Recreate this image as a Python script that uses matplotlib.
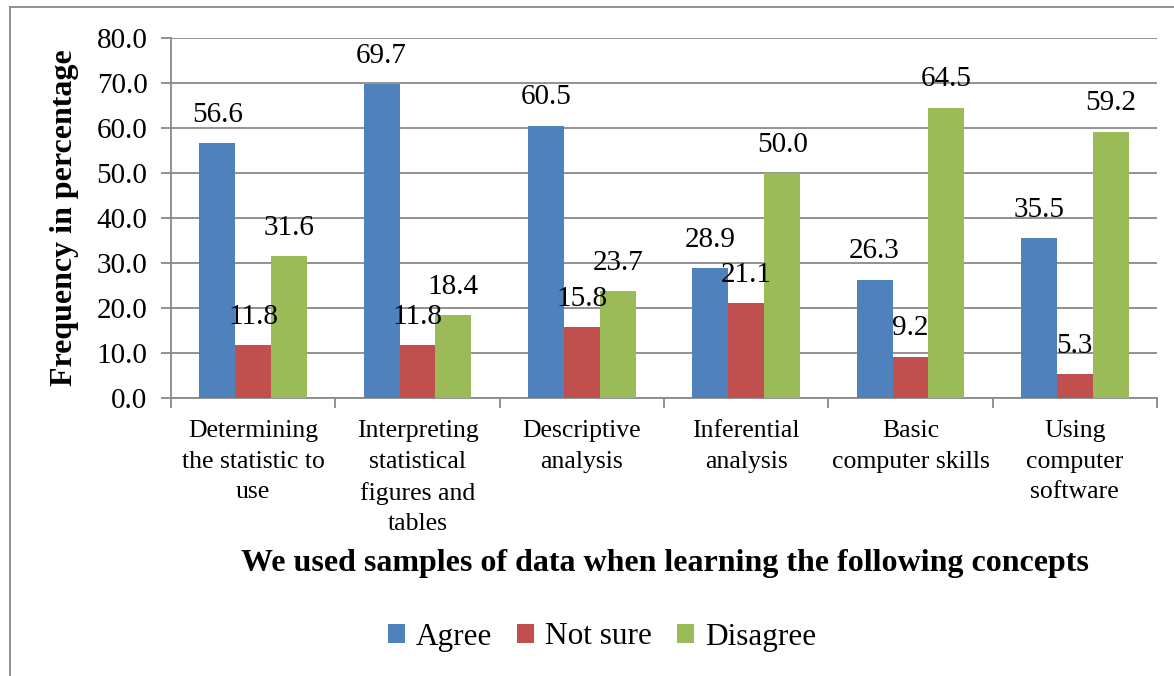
import numpy as np
import matplotlib
matplotlib.use("Agg")
import matplotlib.pyplot as plt
from matplotlib.lines import Line2D

plt.rcParams['font.family'] = ['Liberation Serif', 'DejaVu Serif']

categories = ["Determining\nthe statistic to\nuse",
              "Interpreting\nstatistical\nfigures and\ntables",
              "Descriptive\nanalysis",
              "Inferential\nanalysis",
              "Basic\ncomputer skills",
              "Using\ncomputer\nsoftware"]
agree = [56.6, 69.7, 60.5, 28.9, 26.3, 35.5]
not_sure = [11.8, 11.8, 15.8, 21.1, 9.2, 5.3]
disagree = [31.6, 18.4, 23.7, 50.0, 64.5, 59.2]
series_names = ["Agree", "Not sure", "Disagree"]
colors = ["#4F81BD", "#C0504D", "#9BBB59"]
grid_col = "#898989"

W, H = 1174, 676
fig = plt.figure(figsize=(W / 100, H / 100), dpi=100)
ax = fig.add_axes([171 / W, 1 - 398 / H, (1157 - 171) / W, (398 - 38) / H])

x = np.arange(len(categories))
bw = 0.219
for i, (vals, name, c) in enumerate(zip([agree, not_sure, disagree], series_names, colors)):
    pos = x + (i - 1) * bw
    ax.bar(pos, vals, bw, color=c, label=name, zorder=3)
    for p, v in zip(pos, vals):
        ax.annotate(f"{v:.1f}", (p, v), xytext=(0, 11), textcoords="offset points",
                    ha="center", va="bottom", fontsize=21, zorder=4)

ax.set_xlim(-0.5, len(categories) - 0.5)
ax.set_ylim(0, 80)
ax.set_yticks(np.arange(0, 81, 10))
ax.set_yticklabels([f"{t:.1f}" for t in np.arange(0, 81, 10)], fontsize=21)
ax.yaxis.grid(True, color=grid_col, linewidth=1.3, zorder=0)
ax.tick_params(axis="y", length=7, color=grid_col, width=1.3, pad=10)

ax.set_xticks(np.arange(-0.5, len(categories) + 0.5, 1.0))
ax.set_xticklabels([])
ax.set_xticks(x, minor=True)
ax.set_xticklabels(categories, minor=True, fontsize=18.5, linespacing=1.5, va="top")
ax.tick_params(axis="x", which="major", length=7, color=grid_col, width=1.3)
ax.tick_params(axis="x", which="minor", length=0, pad=16)

for s in ["top", "right"]:
    ax.spines[s].set_visible(False)
for s in ["left", "bottom"]:
    ax.spines[s].set_color(grid_col)
    ax.spines[s].set_linewidth(1.3)

fig.text(65 / W, 1 - 218 / H, "Frequency in percentage", rotation=90, ha="center",
         va="center", fontsize=23, fontweight="bold")
fig.text(665 / W, 1 - 563 / H, "We used samples of data when learning the following concepts",
         ha="center", va="center", fontsize=23, fontweight="bold")

ax.legend(loc="center", bbox_to_anchor=(602 / W, 1 - 637 / H), bbox_transform=fig.transFigure,
          ncol=3, frameon=False, fontsize=22.5, handlelength=0.55, handleheight=0.55,
          handletextpad=0.35, columnspacing=0.8)

fig.add_artist(Line2D([10 / W, 10 / W], [0, 1 - 7 / H], color=grid_col, linewidth=1.3))
fig.add_artist(Line2D([10 / W, 1], [1 - 7 / H, 1 - 7 / H], color=grid_col, linewidth=1.3))

fig.savefig("out.png", dpi=100)
